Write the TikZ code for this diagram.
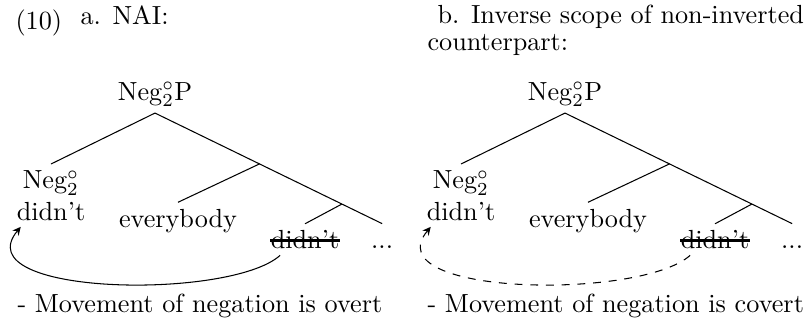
\documentclass[tikz,border=0pt]{standalone}
\usetikzlibrary{positioning}

\begin{document}
\begin{tikzpicture}[
      x=0.3817pt, y=-0.3817pt,
      heading/.style={anchor=base west, inner sep=0pt},
      treenode/.style={anchor=base, inner sep=2.3pt, align=center},
      branch/.style={line width=0.4pt},
      strikeline/.style={line width=0.9pt},
      movearrow/.style={-stealth, line width=0.4pt}
    ]
      \useasboundingbox (0,0) rectangle (812,320);
      % headings
      \node[heading] (num) at (15,29.5) {(10)};
      \node[heading] (headA) at (80,24) {a. NAI:};
      \node[heading] (headB) at (437,23) {b. Inverse scope of non-inverted};
      \node[heading] (headBb) at (427,50) {counterpart:};

      % left tree
      \node[treenode] (rootA) at (155,100) {Neg$^\circ_2$P};
      \node[treenode, anchor=north] (negA) at (51,164) {Neg$^\circ_2$\\didn't};
      \node[treenode] (everyA) at (178,227) {everybody};
      \node[treenode, inner xsep=0pt] (strA) at (305,248.5) {didn't};
      \node[treenode, base right=9.5pt of strA, text height=7pt] (dotsA) {...};
      \draw[branch] (rootA.south) -- coordinate[pos=0.46] (midA) coordinate[pos=0.823] (lowA) (dotsA.north);
      \draw[branch] (rootA.south) -- (negA.north);
      \draw[branch] (midA) -- (everyA.north);
      \draw[branch] (lowA) -- (strA.north);
      \draw[strikeline] ([yshift=3.1pt]strA.base west) -- ([yshift=3.1pt]strA.base east);
      \draw[movearrow] ([xshift=-9.5pt]strA.south) .. controls +(-50,45) and +(-57,69) .. ([xshift=4pt]negA.south west);

      % right tree
      \node[treenode] (rootB) at (565,100) {Neg$^\circ_2$P};
      \node[treenode, anchor=north] (negB) at (461,164) {Neg$^\circ_2$\\didn't};
      \node[treenode] (everyB) at (588,227) {everybody};
      \node[treenode, inner xsep=0pt] (strB) at (715,248.5) {didn't};
      \node[treenode, base right=9.5pt of strB, text height=7pt] (dotsB) {...};
      \draw[branch] (rootB.south) -- coordinate[pos=0.46] (midB) coordinate[pos=0.823] (lowB) (dotsB.north);
      \draw[branch] (rootB.south) -- (negB.north);
      \draw[branch] (midB) -- (everyB.north);
      \draw[branch] (lowB) -- (strB.north);
      \draw[strikeline] ([yshift=3.1pt]strB.base west) -- ([yshift=3.1pt]strB.base east);
      \draw[movearrow, dashed] ([xshift=-9.5pt]strB.south) .. controls +(-50,45) and +(-57,69) .. ([xshift=4pt]negB.south west);

      % comments below
      \node[heading] (noteA) at (17,312) {- Movement of negation is overt};
      \node[heading] (noteB) at (427,312) {- Movement of negation is covert};
    \end{tikzpicture}
\end{document}
